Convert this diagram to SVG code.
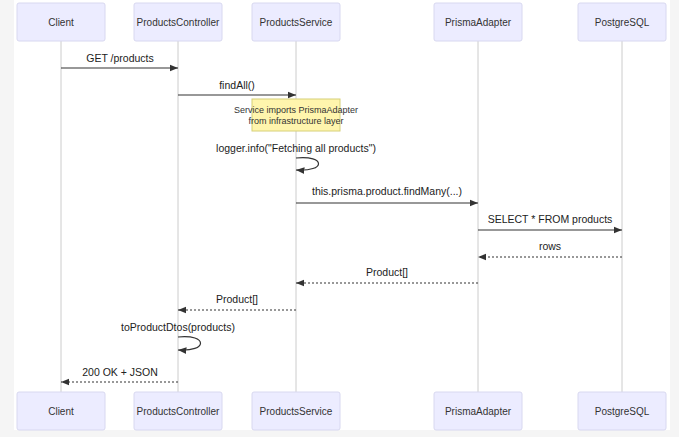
<svg xmlns="http://www.w3.org/2000/svg" width="679" height="437" viewBox="0 0 679 437">
<style>
.actor{fill:#ECECFF;stroke:#d8d8f0;stroke-width:1}
.at{font-family:"Liberation Sans",Arial,sans-serif;font-size:10px;fill:#333;text-anchor:middle}
.life{stroke:#ccc;stroke-width:1}
.msg{stroke:#333;stroke-width:1.2;fill:none}
.dash{stroke-dasharray:2,2}
.ml{font-family:"Liberation Sans",Arial,sans-serif;font-size:10.5px;fill:#222;text-anchor:middle}
</style>
<defs>
<marker id="ah" viewBox="0 0 10 10" refX="10" refY="5" markerWidth="7" markerHeight="7" orient="auto-start-reverse"><path d="M0,1 L10,5 L0,9 z" fill="#333"/></marker>
</defs>
<rect width="679" height="437" fill="#f5f5f5"/>
<rect x="14" y="0" width="656" height="430" fill="#fff"/>
<g id="lifelines">
<line class="life" x1="61" y1="41" x2="61" y2="392"/>
<line class="life" x1="178" y1="41" x2="178" y2="392"/>
<line class="life" x1="296" y1="41" x2="296" y2="392"/>
<line class="life" x1="478" y1="41" x2="478" y2="392"/>
<line class="life" x1="622" y1="41" x2="622" y2="392"/>
</g>
<g id="client"><rect class="actor" x="17" y="3" width="88" height="38" rx="2"/><text class="at" x="61" y="26">Client</text>
<rect class="actor" x="17" y="392" width="88" height="38" rx="2"/><text class="at" x="61" y="415">Client</text></g>
<g id="controller"><rect class="actor" x="134" y="3" width="88" height="38" rx="2"/><text class="at" x="178" y="26">ProductsController</text>
<rect class="actor" x="134" y="392" width="88" height="38" rx="2"/><text class="at" x="178" y="415">ProductsController</text></g>
<g id="service"><rect class="actor" x="252" y="3" width="88" height="38" rx="2"/><text class="at" x="296" y="26">ProductsService</text>
<rect class="actor" x="252" y="392" width="88" height="38" rx="2"/><text class="at" x="296" y="415">ProductsService</text></g>
<g id="prisma"><rect class="actor" x="434" y="3" width="88" height="38" rx="2"/><text class="at" x="478" y="26">PrismaAdapter</text>
<rect class="actor" x="434" y="392" width="88" height="38" rx="2"/><text class="at" x="478" y="415">PrismaAdapter</text></g>
<g id="postgres"><rect class="actor" x="578" y="3" width="88" height="38" rx="2"/><text class="at" x="622" y="26">PostgreSQL</text>
<rect class="actor" x="578" y="392" width="88" height="38" rx="2"/><text class="at" x="622" y="415">PostgreSQL</text></g>
<g id="note"><rect x="252" y="99" width="88" height="32" fill="#fff5ad" stroke="#d6d078"/>
<text class="at" style="font-size:9px" x="296" y="113">Service imports PrismaAdapter</text>
<text class="at" style="font-size:9px" x="296" y="124">from infrastructure layer</text></g>
<g id="connectors">
<line class="msg" x1="61" y1="68" x2="178" y2="68" marker-end="url(#ah)"/><text class="ml" x="120" y="62">GET /products</text>
<line class="msg" x1="178" y1="95" x2="296" y2="95" marker-end="url(#ah)"/><text class="ml" x="237" y="89">findAll()</text>
<text class="ml" x="296" y="152">logger.info("Fetching all products")</text>
<path class="msg" d="M296,158 C326,155 326,172 296,170" marker-end="url(#ah)"/>
<line class="msg" x1="296" y1="203" x2="478" y2="203" marker-end="url(#ah)"/><text class="ml" x="387" y="195">this.prisma.product.findMany(...)</text>
<line class="msg" x1="478" y1="230" x2="622" y2="230" marker-end="url(#ah)"/><text class="ml" x="550" y="223">SELECT * FROM products</text>
<line class="msg dash" x1="622" y1="257" x2="478" y2="257" marker-end="url(#ah)"/><text class="ml" x="550" y="250">rows</text>
<line class="msg dash" x1="478" y1="283" x2="296" y2="283" marker-end="url(#ah)"/><text class="ml" x="387" y="276">Product[]</text>
<line class="msg dash" x1="296" y1="310" x2="178" y2="310" marker-end="url(#ah)"/><text class="ml" x="237" y="303">Product[]</text>
<text class="ml" x="178" y="331">toProductDtos(products)</text>
<path class="msg" d="M178,337 C208,334 208,352 178,350" marker-end="url(#ah)"/>
<line class="msg dash" x1="178" y1="382" x2="61" y2="382" marker-end="url(#ah)"/><text class="ml" x="120" y="376">200 OK + JSON</text>
</g>
</svg>
